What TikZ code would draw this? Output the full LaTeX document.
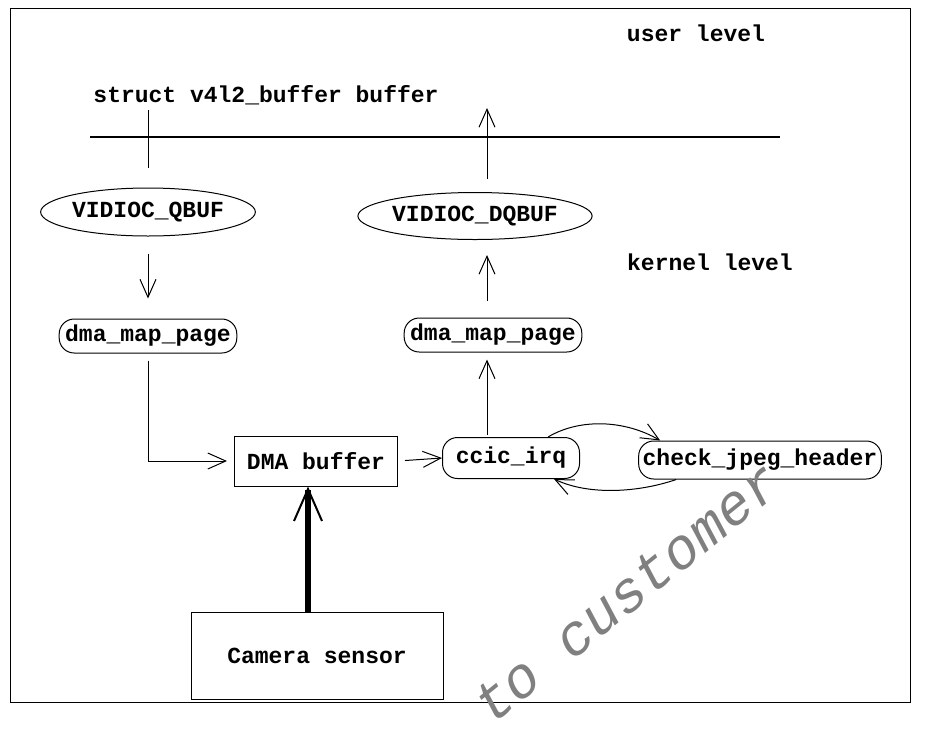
\documentclass[tikz,border=0pt]{standalone}
\usepackage{fontspec}
\setmonofont{Liberation Mono}
\newfontfamily\wmfont{Liberation Mono}
\usepackage{tikz}
\usetikzlibrary{shapes,arrows,positioning,calc,arrows.meta}

\begin{document}
\begin{tikzpicture}[x=1pt, y=-1pt,
    font=\fontsize{23}{27}\selectfont\ttfamily\bfseries,
    line width=1pt,
    >={Straight Barb[length=18pt,width=16pt]},
    fn box/.style={draw, rounded corners=15pt, inner xsep=6pt, inner ysep=0pt, minimum height=34pt},
    ioctl/.style={draw, ellipse, inner sep=0pt},
    hw box/.style={draw, rectangle, inner sep=0pt}]
    \useasboundingbox (0,0) rectangle (928,734);
    \draw (10,8) rectangle (910,702);

    % levels
    \node (user) at (696,33) {user level};
    \node (kern) at (710,262) {kernel level};
    \node (vbuf) at (266,95) {struct v4l2\_buffer buffer};
    \coordinate (bl) at (90,137);
    \coordinate (br) at (780,137);
    \draw[line width=1.6pt] (bl) -- (br);

    % left column
    \node[ioctl, minimum width=210pt, minimum height=48pt] (qbuf) at (148,212) {VIDIOC\_QBUF};
    \node[fn box] (dma1) at (148,336) {dma\_map\_page};
    \node[hw box, minimum width=163pt, minimum height=50pt] (dmab) at (316,461) {DMA buffer};
    \node[hw box, minimum width=252pt, minimum height=87pt] (cam) at (317,656) {Camera sensor};

    % right column
    \coordinate (col) at (487,0);
    \coordinate (up) at (487,108);
    \coordinate (qin) at (148,110);
    \node[ioctl, minimum width=206pt, minimum height=47pt] (dqbuf) at (475,216) {VIDIOC\_DQBUF};
    \node[fn box] (dma2) at (493,335) {dma\_map\_page};
    \node[fn box, minimum width=137pt, minimum height=41pt] (irq) at (511,458) {ccic\_irq};
    \node[fn box, minimum height=38pt, inner xsep=4pt] (chk) at (760,460) {check\_jpeg\_header};

    \draw[shorten >=20pt] (qin) -- (qbuf.north);
    \draw[->, shorten <=17pt, shorten >=20pt] (qbuf.south) -- (dma1.north);
    \draw[->, shorten <=7pt, shorten >=7pt] (dma1.south) |- (dmab.west);
    \draw[->, shorten <=7pt] (dmab.east) -- (irq.west);
    \draw[->, line width=6pt, {Straight Barb[length=32pt,width=28pt,line width=2pt]}-] (dmab.south -| 308,0) -- (cam.north -| 308,0);
    \draw[->, shorten <=2pt, shorten >=7pt] (irq.north -| col) -- (dma2.south -| col);
    \draw[->, shorten <=17pt, shorten >=15pt] (dma2.north -| col) -- (dqbuf.south -| col);
    \draw[->, shorten <=13pt] (dqbuf.north -| col) -- (up);
    \draw[->] ([xshift=-32pt]irq.north east) .. controls (580,418) and (625,420) .. ([xshift=22pt]chk.north west);
    \draw[->] ([xshift=38pt]chk.south west) .. controls (640,492) and (590,496) .. ([xshift=-26pt]irq.south east);

    % watermark
    \node[font=\fontsize{57}{60}\selectfont\wmfont\itshape, text=black!50, rotate=39, anchor=base west, inner sep=0pt] (wm) at (492,726) {to customer};
\end{tikzpicture}
\end{document}
